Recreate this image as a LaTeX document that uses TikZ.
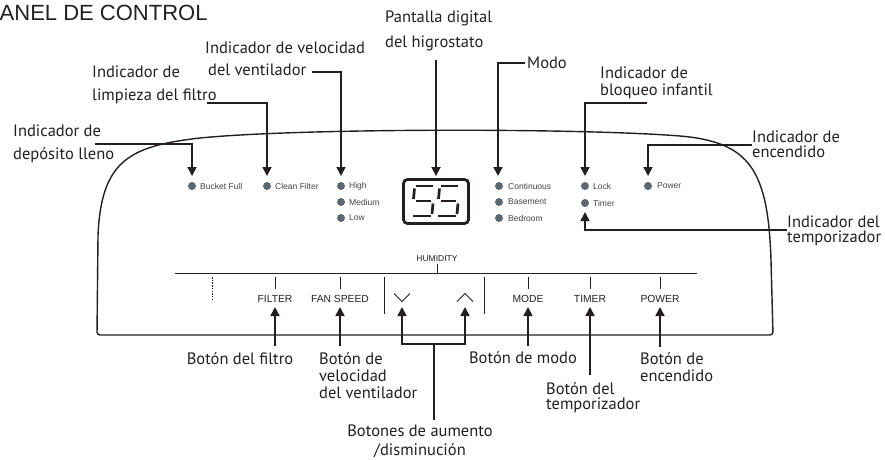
\documentclass[tikz,border=0pt]{standalone}
\usepackage{fontspec}
\setmainfont{PT Sans}
\newfontfamily\arialf{Liberation Sans}
\usetikzlibrary{arrows.meta}
\definecolor{ink}{HTML}{231F20}
\definecolor{dotc}{HTML}{5E6871}
\begin{document}
\begin{tikzpicture}[x=1pt,y=-1pt,
  lbl/.style={font=\fontsize{16.5}{#1}\selectfont, align=left, inner sep=0pt, anchor=north west, text=ink},
  lbl/.default=17,
  lead/.style={line width=1.7pt, draw=ink},
  arr/.style={lead, -{Triangle[width=9pt,length=9pt]}},
  outline/.style={line width=1.4pt, draw=ink},
  ind/.style={circle, fill=dotc, minimum size=8pt, inner sep=0pt},
  indt/.style={font=\arialf\fontsize{8.5}{10}\selectfont, anchor=west, inner sep=0pt, text=ink!85},
  btn/.style={font=\arialf\fontsize{10.3}{12}\selectfont, inner sep=0pt, anchor=base, text=ink},
  thin/.style={line width=0.9pt, draw=ink},
  seg/.style={line width=2.7pt, draw=ink}
]
\useasboundingbox (0,0) rectangle (885,459);

% title
\node[font=\arialf\fontsize{22}{24}\selectfont, anchor=base west, inner sep=0pt, text=ink] (title) at (-0.5,20) {ANEL DE CONTROL};

% housing outline
\draw[outline] (98,236) .. controls (101,160) and (130,146) .. (200,138)
  .. controls (300,128) and (580,128) .. (680,136)
  .. controls (750,142) and (768,170) .. (771,260)
  [rounded corners=3pt] -- (773,335) -- (97,335) -- (98,236);

% indicator dots and texts
\node[ind] (dBucket) at (192,186) {}; \node[indt] (tBucket) at (200,186) {Bucket Full};
\node[ind] (dClean) at (267,186) {}; \node[indt] (tClean) at (275,186) {Clean Filter};
\node[ind] (dHigh) at (341,186) {}; \node[indt] (tHigh) at (349,186) {High};
\node[ind] (dMed) at (341,202) {}; \node[indt] (tMed) at (349,202) {Medium};
\node[ind] (dLow) at (341,218) {}; \node[indt] (tLow) at (349,218) {Low};
\node[ind] (dCont) at (499,186) {}; \node[indt] (tCont) at (508,186) {Continuous};
\node[ind] (dBase) at (499,202) {}; \node[indt] (tBase) at (508,202) {Basement};
\node[ind] (dBed) at (499,218) {}; \node[indt] (tBed) at (508,218) {Bedroom};
\node[ind] (dLock) at (585,186) {}; \node[indt] (tLock) at (593,186) {Lock};
\node[ind] (dTimer) at (585,203) {}; \node[indt] (tTimer) at (593,203) {Timer};
\node[ind] (dPower) at (648,186) {}; \node[indt] (tPower) at (657,186) {Power};

% display
\node[draw=ink, line width=2.8pt, rounded corners=4pt, minimum width=65pt, minimum height=44pt, inner sep=0pt] (disp) at (436,201.5) {};
\foreach \ox in {0,25}{
  \draw[seg] (416+\ox,186) -- (433+\ox,186);
  \draw[seg] (414.5+\ox,188.5) -- (413.5+\ox,199);
  \draw[seg] (415.5+\ox,201) -- (431+\ox,201);
  \draw[seg] (433+\ox,203.5) -- (432+\ox,214);
  \draw[seg] (413+\ox,216) -- (430.5+\ox,216);
}

% button strip
\coordinate (stripL) at (175,273);
\coordinate (stripR) at (697,273);
\draw[thin] (stripL) -- (stripR);
\node[font=\arialf\fontsize{8.5}{10}\selectfont, inner sep=0pt, text=ink] (hum) at (437,258.5) {HUMIDITY};
\draw[thin] (437,264) -- (437,273);
\draw[thin] (384,277) -- (384,314);
\draw[thin] (484,277) -- (484,314);
\draw[line width=0.6pt, draw=ink, dash pattern=on 1.5pt off 1.2pt] (212,277) -- (212,299);
\foreach \bx in {275,340,528,590,660}{ \draw[thin] (\bx,277) -- (\bx,289); }
\node[btn] (bF) at (275,302) {FILTER};
\node[btn] (bS) at (340,302) {FAN SPEED};
\node[btn] (bM) at (528,302) {MODE};
\node[btn] (bT) at (590,302) {TIMER};
\node[btn] (bP) at (660,302) {POWER};
% chevrons
\coordinate (dn) at (402,302);
\coordinate (up) at (465,302);
\draw[thin] (394,293.5) -- (402,301.5) -- (410,293.5);
\draw[thin] (457,301.5) -- (465,293.5) -- (473,301.5);

% top labels
\node[lbl=23] (lDep) at (13,125) {Indicador de\\depósito lleno};
\node[lbl=23] (lLimp) at (92,66) {Indicador de\\limpieza del filtro};
\node[lbl=22] (lVel) at (205,42) {Indicador de velocidad\\\hspace*{3pt}del ventilador};
\node[lbl=25] (lPant) at (385,11) {Pantalla digital\\del higrostato};
\node[font=\fontsize{16.5}{17}\selectfont, inner sep=0pt, anchor=west, text=ink] (lModo) at (527,63) {Modo};
\node[lbl=17] (lBloq) at (600,67) {Indicador de\\bloqueo infantil};
\node[lbl=15] (lEnc) at (752,131) {Indicador de\\encendido};
\node[lbl=15] (lTemp) at (787,216) {Indicador del\\temporizador};

% top leaders
\coordinate (cDep) at (95,144);
\coordinate (cLimp) at (207,103);
\coordinate (cVel) at (312,72);
\coordinate (cPant) at (436,60);
\coordinate (cModo) at (525,63);
\coordinate (cBloq) at (647,103);
\coordinate (cEnc) at (752,145);
\coordinate (cTemp) at (787,230);
\draw[arr] (cDep) -| ([yshift=10pt]dBucket.center);
\draw[arr] (cLimp) -| ([yshift=10pt]dClean.center);
\draw[arr] (cVel) -| ([yshift=10pt]dHigh.center);
\draw[arr] (cPant) -- ([yshift=2pt]disp.north);
\draw[arr] (cModo) -| ([xshift=-1pt,yshift=10pt]dCont.center);
\draw[arr] (cBloq) -| ([yshift=10pt]dLock.center);
\draw[arr] (cEnc) -| ([yshift=10pt]dPower.center);
\draw[arr] (cTemp) -| ([yshift=-9pt]dTimer.center);

% bottom labels
\node[font=\fontsize{16.5}{17}\selectfont, inner sep=0pt, text=ink] (bFil) at (240,359) {Botón del filtro};
\node[lbl=17] (bVel) at (319,352) {Botón de\\velocidad\\del ventilador};
\node[font=\fontsize{16.5}{19}\selectfont, align=center, inner sep=0pt, anchor=north, text=ink] (bAum) at (420,424.5) {Botones de aumento\\/disminución};
\node[font=\fontsize{16.5}{17}\selectfont, inner sep=0pt, text=ink] (bModo) at (523,358) {Botón de modo};
\node[lbl=15] (bTemp) at (546,382) {Botón del\\temporizador};
\node[lbl=17] (bEnc) at (640,352) {Botón de\\encendido};

% bottom arrows
\coordinate (cF) at (275,346);
\coordinate (cS) at (340,346);
\coordinate (cM) at (528,346);
\coordinate (cT) at (590,375);
\coordinate (cP) at (660,347);
\coordinate (jn) at (434,344);
\coordinate (stem) at (434,420);
\draw[arr] (cF) -- ([yshift=-5pt]bF.base);
\draw[arr] (cS) -- ([yshift=-5pt]bS.base);
\draw[arr] (cM) -- ([yshift=-5pt]bM.base);
\draw[arr] (cT) -- ([yshift=-5pt]bT.base);
\draw[arr] (cP) -- ([yshift=-5pt]bP.base);
\draw[lead] (stem) -- (jn);
\draw[arr] (jn) -| ([yshift=-5pt]dn);
\draw[arr] (jn) -| ([yshift=-5pt]up);
\end{tikzpicture}
\end{document}
